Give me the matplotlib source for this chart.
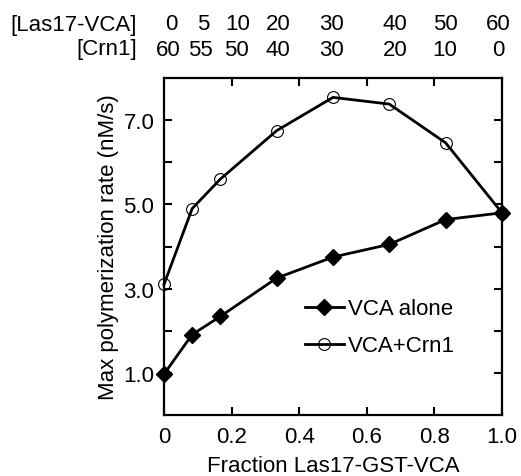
import numpy as np
import matplotlib
matplotlib.use('Agg')
import matplotlib.pyplot as plt

plt.rcParams['font.family'] = ['Liberation Sans', 'DejaVu Sans']
plt.rcParams['font.size'] = 16

# data
frac = [0, 1/12, 1/6, 1/3, 1/2, 2/3, 5/6, 1.0]
vca_alone = [0.97, 1.91, 2.34, 3.25, 3.75, 4.05, 4.64, 4.80]
vca_crn1 = [3.10, 4.90, 5.60, 6.75, 7.54, 7.38, 6.46, 4.80]
las17_conc = ['0', '5', '10', '20', '30', '40', '50', '60']
crn1_conc = ['60', '55', '50', '40', '30', '20', '10', '0']

# label positions (pixels, hand placed like the original)
las17_px = [171.7, 203.3, 237.3, 278.3, 331, 395, 445, 498.3]
crn1_px = [168.3, 200, 236.7, 278.3, 331, 395, 445, 498.3]

W, H = 521, 477
fig = plt.figure(figsize=(W/100, H/100), dpi=100)
ax = fig.add_axes([164/W, 1-416/H, 338/W, 337/H])

ax.plot(frac, vca_alone, '-', color='k', lw=2, marker='D', ms=8,
        mfc='k', mec='k', label='VCA alone', clip_on=False, zorder=3)
ax.plot(frac, vca_crn1, '-', color='k', lw=2, marker='o', ms=8.5,
        mfc='none', mec='k', mew=0.8, label='VCA+Crn1', clip_on=False, zorder=3)

ax.set_xlim(0, 1)
ax.set_ylim(0, 8)
ax.set_xticks([0, 0.2, 0.4, 0.6, 0.8, 1.0])
ax.set_xticklabels(['0', '0.2', '0.4', '0.6', '0.8', '1.0'])
ax.set_yticks([1, 3, 5, 7])
ax.set_yticklabels(['1.0', '3.0', '5.0', '7.0'])
ax.set_yticks([2, 4, 6], minor=True)
ax.tick_params(which='both', direction='in', top=True, right=True,
               width=1.5, length=6)
ax.tick_params(axis='x', pad=8)
ax.tick_params(axis='y', pad=7)
for s in ax.spines.values():
    s.set_linewidth(1.6)

ax.set_xlabel('Fraction Las17-GST-VCA', labelpad=6)
ax.set_ylabel('Max polymerization rate (nM/s)', labelpad=3)

leg = ax.legend(loc='center left', bbox_to_anchor=(305/W, 1-328.5/H),
                bbox_transform=fig.transFigure, frameon=False,
                borderpad=0, borderaxespad=0,
                handlelength=1.75, handletextpad=0.2, labelspacing=0.72)

fig.text(137/W, 1-25/H, '[Las17-VCA]', ha='right', va='center')
fig.text(137/W, 1-50/H, '[Crn1]', ha='right', va='center')
for lab, px in zip(las17_conc, las17_px):
    fig.text(px/W, 1-25/H, lab, ha='center', va='center')
for lab, px in zip(crn1_conc, crn1_px):
    fig.text(px/W, 1-50/H, lab, ha='center', va='center')

fig.savefig('out.png', dpi=100)
